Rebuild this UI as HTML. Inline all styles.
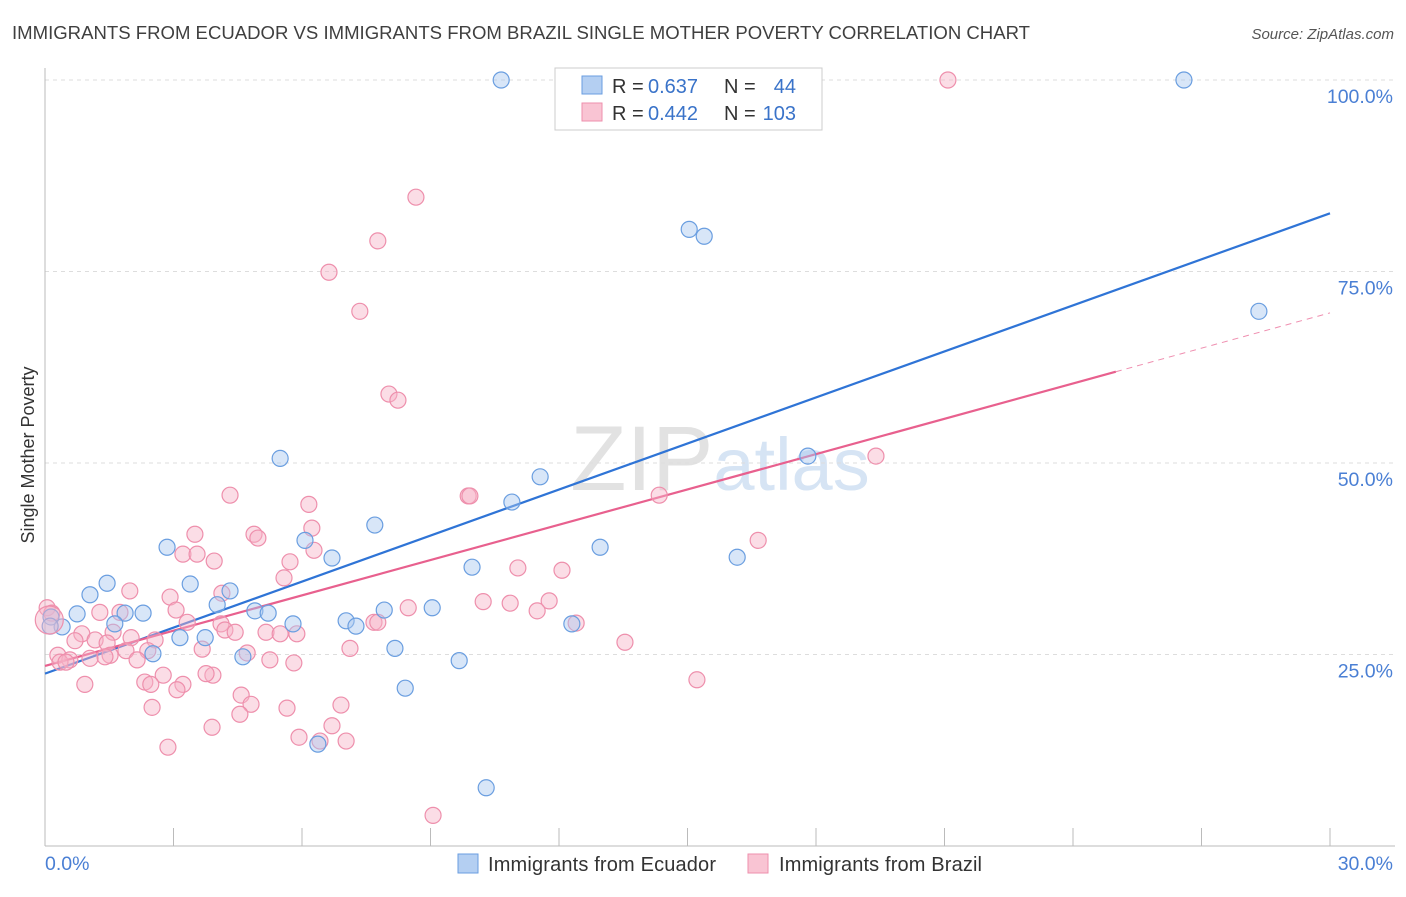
<!DOCTYPE html>
<html><head><meta charset="utf-8"><style>
body{margin:0;background:#fff;font-family:"Liberation Sans",sans-serif;}
svg text{font-family:"Liberation Sans",sans-serif;}
</style></head><body>
<svg id="chart" width="1406" height="892" viewBox="0 0 1406 892" xmlns="http://www.w3.org/2000/svg">
<text x="12" y="39" font-size="18" fill="#3f3f3f" textLength="1018" lengthAdjust="spacingAndGlyphs">IMMIGRANTS FROM ECUADOR VS IMMIGRANTS FROM BRAZIL SINGLE MOTHER POVERTY CORRELATION CHART</text>
<text x="1394" y="39" font-size="15" fill="#555" text-anchor="end" font-style="italic">Source: ZipAtlas.com</text>
<text x="720" y="490" font-size="92" fill="#e4e4e4" text-anchor="middle" font-family="Liberation Serif"><tspan fill="#e2e2e2">ZIP</tspan><tspan fill="#d6e4f4" font-family="Liberation Sans" font-size="74">atlas</tspan></text>
<text transform="translate(34,455) rotate(-90)" font-size="18" fill="#333" text-anchor="middle">Single Mother Poverty</text>
<g id="grid"></g><g id="axes"></g><g id="lines"></g><g id="pts"></g>
<g>
<rect x="555" y="68" width="267" height="62" fill="#fff" stroke="#ccc"/>
<rect x="582" y="76" width="20" height="18" fill="#b4cff2" stroke="#6a9ee0"/>
<rect x="582" y="103" width="20" height="18" fill="#f9c4d3" stroke="#ee8fac"/>
<text x="612" y="93" font-size="20" fill="#333">R =</text>
<text x="648" y="93" font-size="20" fill="#3a73c9">0.637</text>
<text x="724" y="93" font-size="20" fill="#333">N =</text>
<text x="796" y="93" font-size="20" fill="#3a73c9" text-anchor="end">44</text>
<text x="612" y="120" font-size="20" fill="#333">R =</text>
<text x="648" y="120" font-size="20" fill="#3a73c9">0.442</text>
<text x="724" y="120" font-size="20" fill="#333">N =</text>
<text x="796" y="120" font-size="20" fill="#3a73c9" text-anchor="end">103</text>
</g>
<g>
<rect x="458" y="854" width="20" height="19" fill="#b4cff2" stroke="#6a9ee0"/>
<text x="488" y="871" font-size="20" fill="#333" textLength="228">Immigrants from Ecuador</text>
<rect x="748" y="854" width="20" height="19" fill="#f9c4d3" stroke="#ee8fac"/>
<text x="779" y="871" font-size="20" fill="#333" textLength="203">Immigrants from Brazil</text>
</g>
</svg>
<script>
const yTicks=[25,50,75,100];
const xTickLabels=["0.0%","30.0%"];
const blueX=[10.65,26.59,15.04,15.39,28.34,5.49,17.81,11.56,10.90,7.70,2.85,12.96,6.07,6.70,16.16,9.97,1.45,3.39,4.32,1.05,4.02,0.75,2.29,1.87,4.90,5.21,7.92,9.04,0.14,1.63,0.40,5.79,7.03,7.26,12.30,3.15,3.74,8.17,2.52,4.62,9.67,8.41,6.37,10.30,0.12];
const blueY=[100,100,80.5,79.6,69.8,50.6,50.9,48.2,44.9,41.9,39.0,39.0,39.9,37.6,37.7,36.4,34.3,34.2,33.3,32.8,31.5,30.3,30.4,30.4,30.7,30.4,30.8,31.1,29.9,29.0,28.6,29.0,29.4,28.7,29.0,27.2,27.2,25.8,25.1,24.7,24.2,20.6,13.3,7.6,28.7];
const pinkX=[21.08,8.66,7.77,6.63,7.35,8.03,8.24,19.40,9.88,9.92,4.32,14.34,6.16,6.23,3.50,4.88,4.97,16.65,3.22,3.55,6.28,3.95,5.72,11.04,12.07,5.58,1.98,4.13,2.92,11.77,10.23,10.86,8.48,1.28,1.75,3.06,11.49,0.05,0.16,12.40,3.32,7.68,7.77,4.11,4.20,0.86,1.59,4.44,5.16,5.49,5.88,2.01,2.57,0.70,1.17,13.54,1.45,3.67,7.12,2.40,1.89,0.30,1.52,1.40,4.72,0.58,1.05,2.15,0.35,0.49,5.25,5.81,3.92,2.76,0.93,2.33,2.47,3.22,15.22,3.08,3.76,4.58,4.81,2.50,5.65,6.91,4.55,3.90,6.70,5.93,6.42,7.03,2.87,9.06];
const pinkY=[100,84.7,79.0,74.9,69.8,59.0,58.2,50.9,45.7,45.7,45.8,45.8,44.6,41.5,40.7,40.7,40.2,39.9,38.1,38.1,38.6,37.2,37.1,36.3,36.0,35.0,33.3,33.0,32.5,32.0,31.9,31.7,31.1,30.5,30.5,30.8,30.7,31.1,30.4,29.1,29.2,29.2,29.2,29.0,28.2,27.7,27.9,27.9,27.9,27.7,27.7,27.2,26.9,26.8,26.9,26.6,26.5,25.7,25.8,25.5,25.5,24.9,24.9,24.7,25.2,24.3,24.5,24.3,24.0,24.0,24.3,23.9,22.3,22.3,21.1,21.4,21.1,21.1,21.7,20.4,22.5,19.7,18.5,18.1,18.0,18.4,17.2,15.5,15.7,14.2,13.7,13.7,12.9,4.0];
const blueLine=[22.5,82.6];
const pinkLine=[23.5,69.6];
const pinkSolidEnd=25.0;
const NS="http://www.w3.org/2000/svg";
const X=v=>45+v/30*1285;
const Y=v=>846-v/100*766;
function mk(tag,attrs,parent){const e=document.createElementNS(NS,tag);for(const k in attrs)e.setAttribute(k,attrs[k]);document.getElementById(parent).appendChild(e);return e;}
yTicks.forEach(t=>{
 const l=mk('line',{x1:45,x2:1395,y1:Y(t),y2:Y(t),stroke:'#ddd','stroke-dasharray':'4,4'},'grid');
 
 
 const tx=mk('text',{x:1393,y:Y(t)+23,'font-size':19.5,fill:'#4a7fd4','text-anchor':'end'},'grid');
 tx.textContent=t.toFixed(1)+'%';
 
 
});
const ax=mk('line',{x1:45,x2:1395,y1:846,y2:846,stroke:'#bbb'},'axes');


const ay=mk('line',{x1:45,x2:45,y1:68,y2:846,stroke:'#bbb'},'axes');


for(let i=1;i<=10;i++){const tk=mk('line',{x1:X(i*3),x2:X(i*3),y1:828,y2:846,stroke:'#bbb'},'axes');
 
 }
const xl0=mk('text',{x:45,y:870,'font-size':19.5,fill:'#4a7fd4'},'axes');xl0.textContent=xTickLabels[0];


const xl1=mk('text',{x:1393,y:870,'font-size':19.5,fill:'#4a7fd4','text-anchor':'end'},'axes');xl1.textContent=xTickLabels[1];


function pt(x,y,fill,stroke,name,r){const c=mk('circle',{cx:X(x),cy:Y(y),r:r||8,fill:fill,'fill-opacity':0.45,stroke:stroke,'stroke-width':1.2},'pts');
 
 }
pinkX.forEach((x,i)=>pt(x,pinkY[i],'#f7b3c7','#ee8fac','brazil-point'));
blueX.forEach((x,i)=>pt(x,blueY[i],'#a9c8f0','#6a9ee0','ecuador-point'));
pt(0.1,29.5,'#f7b3c7','#ee8fac','brazil-point',14);
const bl=mk('line',{x1:X(0),y1:Y(blueLine[0]),x2:X(30),y2:Y(blueLine[1]),stroke:'#2f74d6','stroke-width':2.2},'lines');


const pAt=x=>pinkLine[0]+(pinkLine[1]-pinkLine[0])*x/30;
const pl=mk('line',{x1:X(0),y1:Y(pAt(0)),x2:X(pinkSolidEnd),y2:Y(pAt(pinkSolidEnd)),stroke:'#e8608e','stroke-width':2.2},'lines');


const pd=mk('line',{x1:X(pinkSolidEnd),y1:Y(pAt(pinkSolidEnd)),x2:X(30),y2:Y(pAt(30)),stroke:'#e8608e','stroke-width':1,'stroke-dasharray':'6,5','stroke-opacity':0.7},'lines');


</script>
</body></html>
